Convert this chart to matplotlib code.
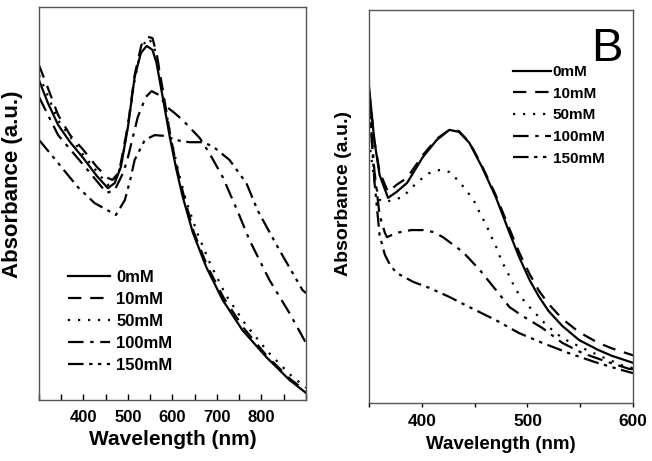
import matplotlib
matplotlib.use("Agg")
import matplotlib.pyplot as plt

plt.rcParams['font.family'] = ['Liberation Sans', 'DejaVu Sans']
plt.rcParams['font.weight'] = 'bold'

labels = ["0mM", "10mM", "50mM", "100mM", "150mM"]

# panel A (left): wavelength (nm) and absorbance (a.u.)
a_wl_0 = [300, 320, 343, 370, 400, 430, 455, 470, 484, 500, 515, 529, 542, 555, 564, 578,
          594, 609, 623, 646, 676, 713, 757, 811, 863, 900]
a_abs_0 = [0.814, 0.756, 0.700, 0.656, 0.615, 0.570, 0.539, 0.552, 0.593, 0.695, 0.822, 0.883,
           0.901, 0.891, 0.858, 0.771, 0.669, 0.585, 0.517, 0.425, 0.338, 0.254, 0.178, 0.109,
           0.051, 0.018]
a_wl_10 = [300, 320, 343, 370, 400, 430, 455, 465, 480, 500, 515, 530, 545, 555, 565, 580,
           595, 610, 625, 648, 678, 715, 760, 812, 865, 900]
a_abs_10 = [0.852, 0.794, 0.725, 0.674, 0.636, 0.593, 0.565, 0.560, 0.580, 0.700, 0.827, 0.903,
            0.924, 0.921, 0.878, 0.776, 0.674, 0.590, 0.522, 0.427, 0.341, 0.260, 0.183, 0.112,
            0.053, 0.023]
a_wl_50 = [300, 343, 400, 455, 470, 485, 500, 515, 530, 545, 558, 570, 585, 600, 615, 630,
           655, 685, 720, 765, 815, 865, 900]
a_abs_50 = [0.827, 0.712, 0.623, 0.547, 0.555, 0.598, 0.700, 0.814, 0.896, 0.921, 0.903, 0.840,
            0.738, 0.649, 0.573, 0.509, 0.427, 0.346, 0.267, 0.191, 0.122, 0.064, 0.031]
a_wl_100 = [300, 343, 400, 452, 470, 490, 500, 522, 540, 553, 570, 587, 605, 623, 661, 683,
            713, 748, 773, 818, 863, 900]
a_abs_100 = [0.771, 0.674, 0.598, 0.527, 0.534, 0.580, 0.618, 0.720, 0.771, 0.786, 0.776, 0.746,
             0.730, 0.712, 0.667, 0.628, 0.567, 0.476, 0.407, 0.305, 0.221, 0.145]
a_wl_150 = [300, 343, 387, 425, 473, 493, 505, 515, 538, 560, 583, 605, 638, 667, 690, 728,
            766, 792, 840, 892, 900]
a_abs_150 = [0.662, 0.603, 0.542, 0.501, 0.471, 0.509, 0.560, 0.611, 0.662, 0.674, 0.672, 0.662,
             0.656, 0.656, 0.646, 0.611, 0.552, 0.481, 0.382, 0.280, 0.272]

# panel B (right)
b_wl_0 = [350, 355, 360, 368, 376, 386, 401, 414, 426, 435, 445, 457, 470, 483, 492, 502, 511,
          520, 533, 549, 567, 580, 598, 600]
b_abs_0 = [0.804, 0.669, 0.580, 0.522, 0.537, 0.560, 0.626, 0.669, 0.695, 0.690, 0.662, 0.600,
           0.524, 0.433, 0.372, 0.313, 0.270, 0.234, 0.196, 0.160, 0.135, 0.120, 0.104, 0.102]
b_wl_10 = [350, 355, 360, 368, 376, 386, 401, 414, 426, 435, 445, 457, 470, 483, 492, 502, 511,
           520, 533, 549, 567, 580, 598, 600]
b_abs_10 = [0.796, 0.669, 0.588, 0.537, 0.555, 0.573, 0.631, 0.672, 0.695, 0.692, 0.664, 0.603,
            0.529, 0.443, 0.384, 0.328, 0.285, 0.252, 0.214, 0.180, 0.153, 0.139, 0.123, 0.121]
b_wl_50 = [350, 355, 360, 365, 382, 390, 398, 407, 417, 426, 434, 442, 450, 455, 461, 466, 471,
           475, 481, 486, 492, 502, 509, 518, 533, 552, 571, 593, 600]
b_abs_50 = [0.669, 0.567, 0.517, 0.511, 0.524, 0.547, 0.567, 0.585, 0.593, 0.588, 0.567, 0.542,
            0.511, 0.483, 0.453, 0.422, 0.394, 0.364, 0.333, 0.305, 0.275, 0.244, 0.224, 0.198,
            0.165, 0.140, 0.117, 0.092, 0.089]
b_wl_100 = [350, 355, 360, 365, 367, 376, 390, 401, 411, 420, 439, 455, 470, 483, 495, 514, 533,
            552, 571, 596, 600]
b_abs_100 = [0.771, 0.593, 0.478, 0.433, 0.422, 0.433, 0.440, 0.440, 0.435, 0.422, 0.384, 0.338,
             0.288, 0.244, 0.222, 0.191, 0.153, 0.127, 0.109, 0.087, 0.086]
b_wl_150 = [350, 355, 360, 365, 370, 376, 392, 407, 426, 445, 470, 492, 514, 539, 564, 589, 600]
b_abs_150 = [0.784, 0.567, 0.427, 0.377, 0.351, 0.331, 0.308, 0.293, 0.270, 0.244, 0.211, 0.178,
             0.153, 0.127, 0.104, 0.084, 0.076]

styles = ['-', (0, (6, 4)), (0, (1, 3.5)), (0, (7, 3, 1.5, 3)), (0, (7, 2.5, 1.5, 2.5, 1.5, 2.5))]

fig = plt.figure(figsize=(6.52, 4.61), dpi=100)
ax1 = fig.add_axes([0.0598, 0.1323, 0.4095, 0.8525])
ax2 = fig.add_axes([0.566, 0.1258, 0.405, 0.8525])

series_a = [(a_wl_0, a_abs_0), (a_wl_10, a_abs_10), (a_wl_50, a_abs_50),
            (a_wl_100, a_abs_100), (a_wl_150, a_abs_150)]
series_b = [(b_wl_0, b_abs_0), (b_wl_10, b_abs_10), (b_wl_50, b_abs_50),
            (b_wl_100, b_abs_100), (b_wl_150, b_abs_150)]

for (x, y), ls, lab in zip(series_a, styles, labels):
    ax1.plot(x, y, color='black', lw=1.6, linestyle=ls, label=lab)
for (x, y), ls, lab in zip(series_b, styles, labels):
    ax2.plot(x, y, color='black', lw=1.6, linestyle=ls, label=lab)

ax1.set_xlim(300, 900)
ax1.set_ylim(0, 1)
ax1.set_xticks(range(300, 901, 50))
ax1.set_xticklabels(['', '', '400', '', '500', '', '600', '', '700', '', '800', '', ''])
ax1.tick_params(axis='x', direction='in', length=4, width=1, pad=7, labelsize=12)

ax2.set_xlim(350, 600)
ax2.set_ylim(0, 1)
ax2.set_xticks(range(350, 601, 50))
ax2.set_xticklabels(['', '400', '', '500', '', '600'])
ax2.tick_params(axis='x', direction='out', length=3, width=1, pad=5, labelsize=12.5)

for ax in (ax1, ax2):
    ax.set_yticks([])
    for sp in ax.spines.values():
        sp.set_color('#555555')
        sp.set_linewidth(1)

ax1.set_xlabel("Wavelength (nm)", fontsize=15, fontweight='bold', labelpad=4)
ax1.set_ylabel("Absorbance (a.u.)", fontsize=16, fontweight='bold')
ax1.yaxis.set_label_coords(-0.06, 0.55)
ax2.set_xlabel("Wavelength (nm)", fontsize=13.5, fontweight='bold', labelpad=5)
ax2.set_ylabel("Absorbance (a.u.)", fontsize=14, fontweight='bold')
ax2.yaxis.set_label_coords(-0.064, 0.534)

ax1.legend(loc='upper left', bbox_to_anchor=(0.109, 0.33), frameon=False, fontsize=12,
           handlelength=2.5, handletextpad=0.4, labelspacing=0.42, borderpad=0, borderaxespad=0)
ax2.legend(loc='upper left', bbox_to_anchor=(0.545, 0.86), frameon=False, fontsize=11,
           handlelength=2.5, handletextpad=0.1, labelspacing=0.5, borderpad=0, borderaxespad=0)

ax2.text(0.90, 0.90, "B", transform=ax2.transAxes, fontsize=34, fontweight='normal',
         ha='center', va='center')

fig.savefig("out.png", dpi=100)
